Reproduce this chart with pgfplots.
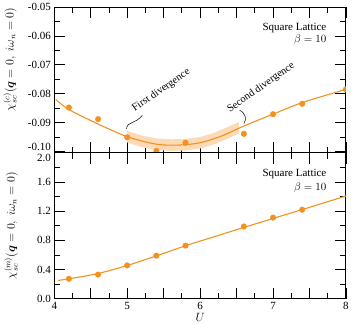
\documentclass[border=0pt]{standalone}
\usepackage{fontspec}
\setmainfont{Liberation Serif}
\usepackage{pgfplots}
\pgfplotsset{compat=1.18}
\usepackage{bm}
\definecolor{myor}{RGB}{241,146,32}
\definecolor{myband}{RGB}{252,218,182}
\begin{document}
\begin{tikzpicture}
\pgfplotsset{
  every axis/.append style={
    scale only axis, width=292pt, height=146pt,
    xmin=4, xmax=8,
    xtick={4,4.5,5,5.5,6,6.5,7,7.5,8},
    minor x tick num=1, minor y tick num=1,
    tick align=inside, tick pos=both,
    major tick length=11pt, minor tick length=6pt,
    every tick/.style={black, line width=0.8pt},
    axis line style={line width=0.9pt},
    tick label style={font=\fontsize{11}{13}\selectfont},
    label style={font=\fontsize{12}{14}\selectfont},
    /pgf/number format/assume math mode=true,
  }
}
\begin{axis}[name=a, at={(0,0)}, anchor=south west,
  ymin=-0.1005, ymax=-0.05,
  ytick={-0.10,-0.09,-0.08,-0.07,-0.06,-0.05},
  yticklabels={\raisebox{4.5pt}[8pt][0pt]{-0.10},-0.09,-0.08,-0.07,-0.06,-0.05},
  xticklabels={},
  clip marker paths=true,
  ylabel={$\chi^{(c)}_{sc}(\bm{q}=0,\; i\omega_n=0)$},
  ylabel style={at={(axis description cs:-0.152,0.64)}, anchor=center},
]
\addplot[fill=myband, draw=none] coordinates {
 (5.0,-0.0929) (5.2,-0.0945) (5.4,-0.0955) (5.6,-0.0958) (5.8,-0.0957) (6.0,-0.0950) (6.2,-0.0935) (6.4,-0.0913) (6.53,-0.0898)
 (6.53,-0.0938) (6.4,-0.0953) (6.2,-0.0975) (6.0,-0.0990) (5.8,-0.0997) (5.6,-0.0998) (5.4,-0.0995) (5.2,-0.0985) (5.0,-0.0969)
} -- cycle;
\addplot[myor, line width=1.1pt, smooth] coordinates {
 (4.02,-0.0820) (4.2,-0.0855) (4.6,-0.0905) (5.0,-0.0949) (5.4,-0.0975) (5.7,-0.0978) (6.0,-0.0970) (6.3,-0.0946) (6.6,-0.0912) (7.0,-0.0871) (7.4,-0.0831) (8.0,-0.0785)
};
\addplot[only marks, mark=*, mark size=2.8pt, myor] coordinates {
 (4.2,-0.0848) (4.6,-0.0888) (5.0,-0.0951) (5.4,-0.0998) (5.8,-0.0970) (6.6,-0.0939) (7.0,-0.0871) (7.4,-0.0835) (8.0,-0.0785)
};
\draw[black, line width=0.5pt] (axis cs:4.99,-0.0922) .. controls (axis cs:5.0,-0.0895) and (axis cs:5.12,-0.0905) .. (axis cs:5.21,-0.0874);
\draw[black, line width=0.5pt] (axis cs:6.54,-0.0857) .. controls (axis cs:6.63,-0.0868) and (axis cs:6.64,-0.0890) .. (axis cs:6.60,-0.0903);
\node[rotate=35, font=\fontsize{10.5}{12}\selectfont] at (axis cs:5.466,-0.0789) {First divergence};
\node[rotate=35, font=\fontsize{10.5}{12}\selectfont] at (axis cs:6.836,-0.0779) {Second divergence};
\node[anchor=east, font=\fontsize{11}{13}\selectfont] at (axis description cs:0.945,0.857) {Square Lattice};
\node[anchor=east, font=\fontsize{11}{13}\selectfont] at (axis description cs:0.945,0.778) {$\beta=10$};
\node[font=\fontsize{11}{13}\selectfont] at (axis description cs:-0.137,0.946) {(a)};
\end{axis}
\begin{axis}[name=b, at={(a.south west)}, anchor=north west,
  ymin=0, ymax=2.0,
  ytick={0,0.4,0.8,1.2,1.6,2.0},
  yticklabels={0.0,0.4,0.8,1.2,1.6,\raisebox{-5pt}[8pt][0pt]{2.0}},
  xticklabels={4,,5,,6,,7,,8},
  xlabel={$U$},
  xlabel style={yshift=3pt},
  ylabel={$\chi^{(m)}_{sc}(\bm{q}=0,\; i\omega_n=0)$},
  ylabel style={at={(axis description cs:-0.148,0.5)}, anchor=center},
]
\addplot[myor, line width=1.1pt, smooth] coordinates {
 (4.05,0.25) (4.2,0.272) (4.6,0.345) (5.0,0.455) (5.4,0.587) (5.8,0.726) (6.2,0.852) (6.6,0.977) (7.0,1.100) (7.4,1.222) (8.0,1.408)
};
\addplot[only marks, mark=*, mark size=2.8pt, myor] coordinates {
 (4.2,0.273) (4.6,0.330) (5.0,0.456) (5.4,0.590) (5.8,0.728) (6.6,0.990) (7.0,1.112) (7.4,1.221)
};
\node[anchor=east, font=\fontsize{11}{13}\selectfont] at (axis description cs:0.945,0.853) {Square Lattice};
\node[anchor=east, font=\fontsize{11}{13}\selectfont] at (axis description cs:0.945,0.761) {$\beta=10$};
\node[font=\fontsize{11}{13}\selectfont] at (axis description cs:-0.14,0.959) {(b)};
\end{axis}
\end{tikzpicture}
\end{document}
